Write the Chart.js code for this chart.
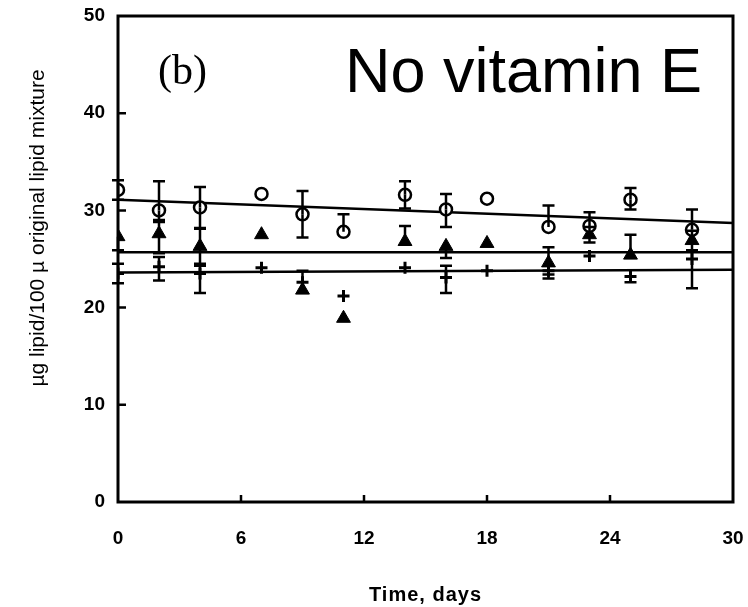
<!DOCTYPE html>
<html>
<head>
<meta charset="utf-8">
<script src="https://cdn.jsdelivr.net/npm/chart.js@4"></script>
<style>
  body { margin: 0; background: #fff; }
  canvas { display: block; }
</style>
</head>
<body>
<canvas id="chart" width="748" height="607"></canvas>
<script>
// days sampled
const days = [0, 2, 4, 7, 9, 11, 14, 16, 18, 21, 23, 25, 28];

// open circles
const circle = [32.1, 30.0, 30.3, 31.7, 29.6, 27.8, 31.6, 30.1, 31.2, 28.3, 28.4, 31.1, 28.0];
const circleUp = [1.0, 3.0, 2.1, 0, 2.4, 1.8, 1.4, 1.6, 0, 2.2, 1.4, 1.2, 2.1];
const circleDown = [1.0, 1.0, 2.1, 0, 2.4, 0, 1.4, 1.8, 0, 0, 0, 1.0, 0];

// filled triangles
const triangle = [27.3, 27.6, 26.3, 27.5, 21.8, 18.9, 26.8, 26.3, 26.6, 24.6, 27.5, 25.4, 26.9];
const triUp = [0, 1.2, 1.8, 0, 2.0, 0, 1.6, 0, 0, 1.6, 0.8, 2.1, 1.0];
const triDown = [1.4, 2.0, 1.8, 0, 0, 0, 0, 1.2, 0, 1.6, 0.8, 0, 1.0];

// plus signs
const plus = [23.5, 24.2, 23.5, 24.1, 22.6, 21.2, 24.1, 23.1, 23.8, 23.8, 25.3, 23.2, 25.0];
const plusUp = [1.0, 1.0, 0.8, 0, 0, 0, 0, 1.2, 0, 0, 0, 0, 0.8];
const plusDown = [1.0, 1.4, 2.0, 0, 0, 0, 0, 1.6, 0, 0.4, 0, 0.6, 3.0];

// regression lines (value at day 0 and day 30)
const fitDays = [0, 30];
const circleFit = [31.1, 28.7];
const triFit = [25.7, 25.7];
const plusFit = [23.6, 23.9];

const xTicks = [0, 6, 12, 18, 24, 30];
const yTicks = [0, 10, 20, 30, 40, 50];

const pts = (xs, ys) => xs.map((x, i) => ({x: x, y: ys[i]}));

const errorBars = {
    id: 'errorBars',
    afterDatasetsDraw(chart) {
        const ctx = chart.ctx;
        const xs = chart.scales.x, ys = chart.scales.y;
        const sets = [[circle, circleUp, circleDown], [triangle, triUp, triDown], [plus, plusUp, plusDown]];
        ctx.save();
        ctx.strokeStyle = '#000';
        ctx.lineWidth = 2.5;
        sets.forEach(([vals, up, down]) => {
            days.forEach((d, i) => {
                const px = xs.getPixelForValue(d);
                const mid = ys.getPixelForValue(vals[i]);
                [[up[i], 1], [down[i], -1]].forEach(([e, sign]) => {
                    if (!e) return;
                    const end = ys.getPixelForValue(vals[i] + sign * e);
                    ctx.beginPath();
                    ctx.moveTo(px, mid);
                    ctx.lineTo(px, end);
                    ctx.moveTo(px - 6, end);
                    ctx.lineTo(px + 6, end);
                    ctx.stroke();
                });
            });
        });
        ctx.restore();
    }
};

const frame = {
    id: 'frame',
    afterDraw(chart) {
        const ctx = chart.ctx;
        const a = chart.chartArea;
        const xs = chart.scales.x, ys = chart.scales.y;
        ctx.save();
        ctx.strokeStyle = '#000';
        ctx.lineWidth = 3;
        ctx.strokeRect(a.left, a.top, a.right - a.left, a.bottom - a.top);
        ctx.lineWidth = 2.5;
        ctx.beginPath();
        yTicks.slice(1, -1).forEach(v => {
            const py = ys.getPixelForValue(v);
            ctx.moveTo(a.left, py);
            ctx.lineTo(a.left + 8, py);
        });
        xTicks.slice(1, -1).forEach(v => {
            const px = xs.getPixelForValue(v);
            ctx.moveTo(px, a.bottom);
            ctx.lineTo(px, a.bottom - 7);
        });
        ctx.stroke();

        ctx.fillStyle = '#000';
        ctx.font = '63px "Liberation Sans", Arial, sans-serif';
        ctx.textBaseline = 'alphabetic';
        ctx.fillText('No vitamin E', 345, 92);
        ctx.font = '42px "Liberation Serif", "Times New Roman", serif';
        ctx.fillText('(b)', 158, 84);

        ctx.font = 'bold 20px "Liberation Sans", Arial, sans-serif';
        ctx.letterSpacing = '1px';
        ctx.textAlign = 'center';
        ctx.textBaseline = 'middle';
        ctx.fillText('Time, days', (a.left + a.right) / 2, 595);
        ctx.letterSpacing = '0px';
        ctx.translate(38, 228);
        ctx.rotate(-Math.PI / 2);
        ctx.font = '21px "Liberation Sans", Arial, sans-serif';
        ctx.fillText('\u00b5g lipid/100 \u00b5 original lipid mixture', 0, 0);
        ctx.restore();
    }
};

const tickFont = {family: '"Liberation Sans", Arial', size: 19, weight: 'bold'};

const ctx = document.getElementById('chart').getContext('2d');
new Chart(ctx, {
    type: 'scatter',
    data: {
        datasets: [
            {label: 'circle', data: pts(days, circle), pointStyle: 'circle', pointRadius: 6,
             borderColor: '#000', backgroundColor: '#fff', borderWidth: 2.5, order: 1},
            {label: 'triangle', data: pts(days, triangle), pointStyle: 'triangle', pointRadius: 8,
             borderColor: '#000', backgroundColor: '#000', borderWidth: 1, order: 2},
            {label: 'plus', data: pts(days, plus), pointStyle: 'cross', pointRadius: 6,
             borderColor: '#000', borderWidth: 3, order: 3},
            {type: 'line', label: 'circle fit', data: pts(fitDays, circleFit), borderColor: '#000',
             borderWidth: 2.5, pointRadius: 0, order: 4},
            {type: 'line', label: 'triangle fit', data: pts(fitDays, triFit), borderColor: '#000',
             borderWidth: 2.5, pointRadius: 0, order: 4},
            {type: 'line', label: 'plus fit', data: pts(fitDays, plusFit), borderColor: '#000',
             borderWidth: 2.5, pointRadius: 0, order: 4}
        ]
    },
    options: {
        responsive: false,
        animation: false,
        layout: {padding: {top: 16, right: 15, left: 0, bottom: 0}},
        plugins: {legend: {display: false}, tooltip: {enabled: false}},
        scales: {
            x: {
                type: 'linear', min: 0, max: 30,
                afterBuildTicks: s => { s.ticks = xTicks.map(v => ({value: v})); },
                afterFit: s => { s.height = 105; s.paddingLeft = 0; s.paddingRight = 0; },
                grid: {display: false, drawTicks: false},
                border: {display: false},
                ticks: {color: '#000', padding: 25, maxRotation: 0, font: tickFont}
            },
            y: {
                min: 0, max: 50,
                afterBuildTicks: s => { s.ticks = yTicks.map(v => ({value: v})); },
                afterFit: s => { s.width = 118; s.paddingTop = 0; s.paddingBottom = 0; },
                grid: {display: false, drawTicks: false},
                border: {display: false},
                ticks: {color: '#000', padding: 13, font: tickFont}
            }
        }
    },
    plugins: [errorBars, frame]
});
</script>
</body>
</html>
